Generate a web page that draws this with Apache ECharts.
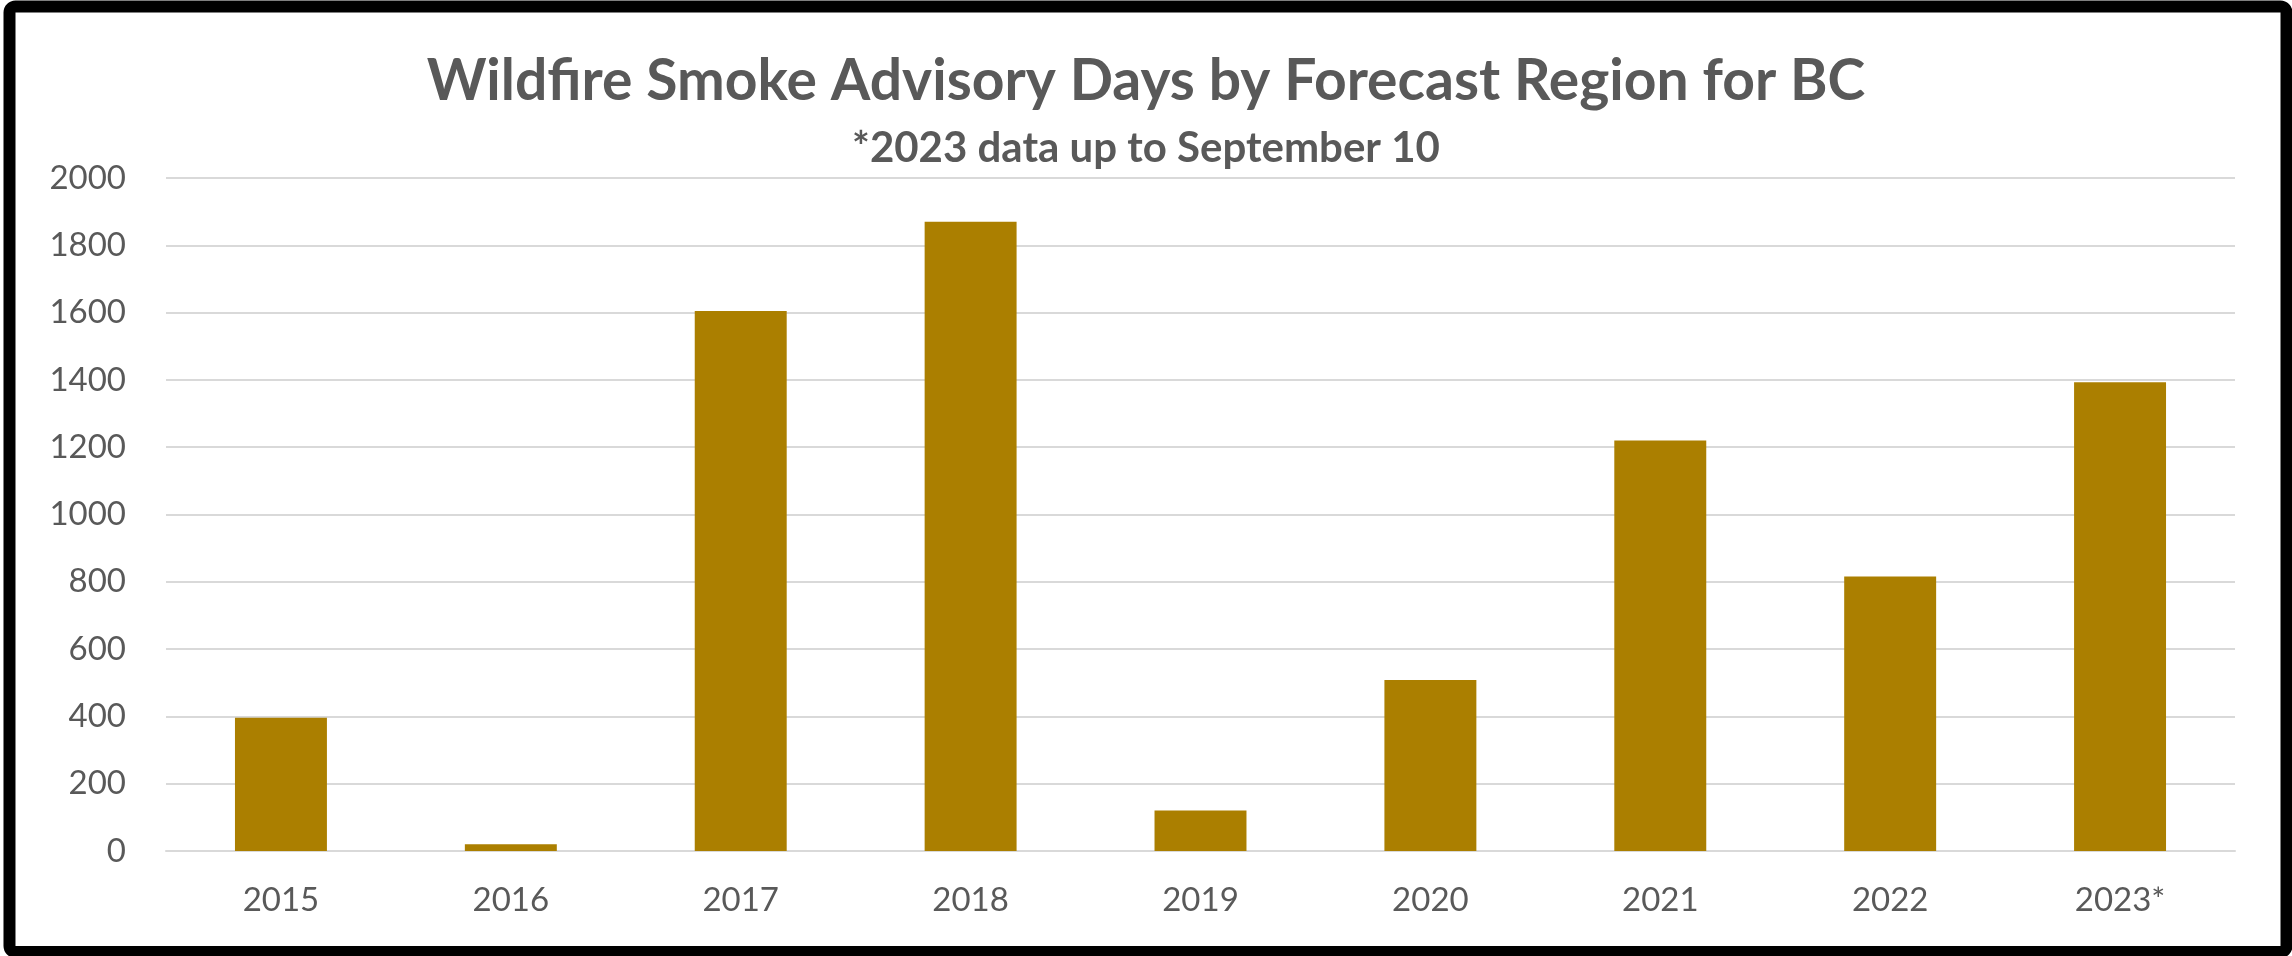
<!DOCTYPE html>
<html>
<head>
<meta charset="utf-8">
<title>Wildfire Smoke Advisory Days by Forecast Region for BC</title>
<script src="https://cdn.jsdelivr.net/npm/echarts@6/dist/echarts.min.js"></script>
<style>
  html, body { margin: 0; padding: 0; background: #ffffff; }
  #chart { width: 2292px; height: 956px; }
</style>
</head>
<body>
<div id="chart"></div>
<script>
// Advisory days issued per year (2023 is partial, through September 10)
const years = ['2015', '2016', '2017', '2018', '2019', '2020', '2021', '2022', '2023*'];
const advisoryDays = [396, 20, 1605, 1870, 120, 508, 1220, 816, 1393];

const titleText = 'Wildfire Smoke Advisory Days by Forecast Region for BC';
const subtitleText = '*2023 data up to September 10';

const textGrey = '#595959';
const gridGrey = '#d9d9d9';
const barGold = '#ab7f00';
const fontFamily = 'Lato, "Open Sans", sans-serif';

const chart = echarts.init(document.getElementById('chart'), null, { renderer: 'canvas' });

chart.setOption({
  backgroundColor: '#ffffff',
  animation: false,
  title: [
    {
      text: titleText,
      left: 'center',
      top: 53,
      padding: 0,
      textStyle: { color: textGrey, fontFamily, fontWeight: 'bold', fontSize: 57 }
    },
    {
      text: subtitleText,
      left: 'center',
      top: 127,
      padding: 0,
      textStyle: { color: textGrey, fontFamily, fontWeight: 'bold', fontSize: 42 }
    }
  ],
  grid: {
    left: 166,
    right: 57,
    top: 178,
    bottom: 105,
    containLabel: false,
    outerBoundsMode: 'none'
  },
  xAxis: {
    type: 'category',
    data: years,
    axisLine: { show: true, lineStyle: { color: gridGrey, width: 2 } },
    axisTick: { show: false },
    axisLabel: { color: textGrey, fontFamily, fontSize: 33, margin: 33 }
  },
  yAxis: {
    type: 'value',
    min: 0,
    max: 2000,
    interval: 200,
    axisLine: { show: false },
    axisTick: { show: false },
    axisLabel: {
      color: textGrey,
      fontFamily,
      fontSize: 33,
      margin: 40,
      formatter: (v) => String(v)
    },
    splitLine: { show: true, lineStyle: { color: gridGrey, width: 2 } }
  },
  series: [
    {
      type: 'bar',
      data: advisoryDays,
      barWidth: '40%',
      itemStyle: { color: barGold }
    }
  ],
  graphic: [
    {
      type: 'rect',
      z: 100,
      silent: true,
      shape: { x: 9.5, y: 6.5, width: 2277, height: 945.5, r: 6 },
      style: { fill: 'none', stroke: '#000000', lineWidth: 12 }
    }
  ]
});
</script>
</body>
</html>
